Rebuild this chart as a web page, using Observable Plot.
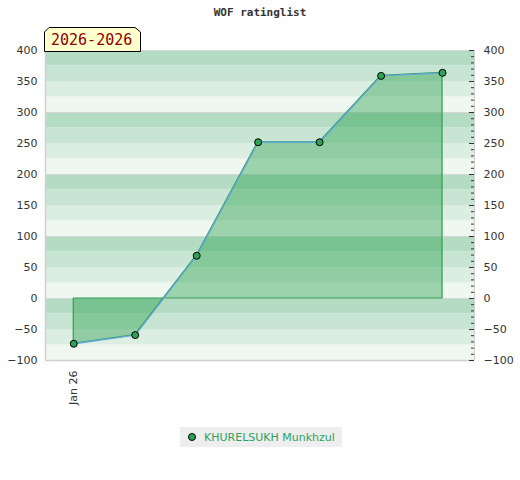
<!DOCTYPE html>
<html>
<head>
<meta charset="utf-8">
<script src="https://cdn.jsdelivr.net/npm/d3@7"></script>
<script src="https://cdn.jsdelivr.net/npm/@observablehq/plot@0.6"></script>
<style>
  html, body { margin: 0; padding: 0; background: #fff; }
  #wrap { position: relative; width: 520px; height: 480px; font-family: "DejaVu Sans", sans-serif; }
  #title { position: absolute; left: 0; top: 6px; width: 520px; text-align: center;
           font: bold 11px "DejaVu Sans Mono", monospace; color: #333; }
  #chart { position: absolute; left: 0; top: 0; }
  #badge { position: absolute; left: 44px; top: 27px; }
  #legend { position: absolute; left: 180px; top: 427px; width: 162px; height: 20px; background: #eeeeee;
            font: 11px "DejaVu Sans", sans-serif; color: #2ca25f; display: flex; align-items: center; }
  #legend .dot { width: 6px; height: 6px; border-radius: 50%; background: #2ea355; border: 1px solid #000; margin: 0 8px 0 8px; }
</style>
</head>
<body>
<div id="wrap">
  <div id="chart"></div>
  <div id="title">WOF ratinglist</div>
  <svg id="badge" width="98" height="25">
    <polygon points="0.5,24.5 0.5,5 5,0.5 91,0.5 96.5,5 96.5,24.5" fill="#ffffcc" stroke="#000" stroke-width="1"/>
    <text x="7" y="18" font-family="DejaVu Sans Mono, monospace" font-size="15" fill="#8b0000">2026-2026</text>
  </svg>
  <div id="legend"><span class="dot"></span><span>KHURELSUKH Munkhzul</span></div>
</div>
<script>
// Data
const rounds = [0, 1, 2, 3, 4, 5, 6];
const ratings = [-73, -59, 69, 252, 252, 359, 364];
const xTickLabels = ["Jan 26"];
const player = "KHURELSUKH Munkhzul";
const periodLabel = "2026-2026";

const data = rounds.map((r, i) => ({x: r, y: ratings[i]}));

const yMin = -100, yMax = 400;
const xLo = -0.46, xHi = 6.52;
const bandColors = ["#b3dcc3", "#c8e5d3", "#dcede2", "#eff7f1"];
const bands = d3.range(yMin, yMax, 25).map(v => ({
  y1: v, y2: v + 25,
  fill: bandColors[3 - (((v - yMin) / 25) % 4)]
}));
const pxPerX = (520 - 45 - 46) / (xHi - xLo);

const chart = Plot.plot({
  width: 520,
  height: 420,
  marginTop: 50,
  marginBottom: 60,
  marginLeft: 45,
  marginRight: 46,
  style: {fontFamily: "DejaVu Sans, sans-serif", fontSize: "11px", color: "#333", background: "transparent"},
  x: {domain: [xLo, xHi], axis: null},
  y: {domain: [yMin, yMax], axis: null},
  color: {type: "identity"},
  marks: [
    Plot.rect(bands, {y1: "y1", y2: "y2", fill: "fill"}),
    Plot.ruleY(d3.range(yMin, yMax + 1, 100), {stroke: "#d6d6d6", strokeWidth: 1}),
    Plot.areaY(data, {x: "x", y1: 0, y2: "y", fill: "#29a04c", fillOpacity: 0.42, stroke: "#2e9e50", strokeWidth: 1.2}),
    Plot.line(data, {x: "x", y: "y", stroke: "#62a7dc", strokeWidth: 1.3}),
    Plot.dot(data, {x: "x", y: "y", r: 3.5, fill: "#2ea355", stroke: "#000", strokeWidth: 1}),
    Plot.ruleX([xLo], {stroke: "#d0d0d0", strokeWidth: 1.5}),
    Plot.ruleY([yMin], {stroke: "#d0d0d0", strokeWidth: 1.5}),
    Plot.ruleX([xHi], {stroke: "#d0d0d0", strokeWidth: 1}),
    Plot.ruleY(d3.range(yMin, yMax + 1, 10), {x1: xHi - 3 / pxPerX, x2: xHi, stroke: "#333", strokeWidth: 1}),
    Plot.ruleY(d3.range(yMin, yMax + 1, 50), {x1: xHi - 5 / pxPerX, x2: xHi, stroke: "#333", strokeWidth: 1}),
    Plot.axisY({anchor: "left", ticks: d3.range(yMin, yMax + 1, 50), tickSize: 0, tickPadding: 8, fontSize: 11, label: null}),
    Plot.axisY({anchor: "right", ticks: d3.range(yMin, yMax + 1, 50), tickSize: 0, tickPadding: 9, fontSize: 11, label: null}),
    Plot.axisX({ticks: [0], tickFormat: (d, i) => xTickLabels[i], tickSize: 0, tickRotate: -90, tickPadding: 10, fontSize: 11, label: null})
  ]
});
document.getElementById("chart").appendChild(chart);
</script>
</body>
</html>
